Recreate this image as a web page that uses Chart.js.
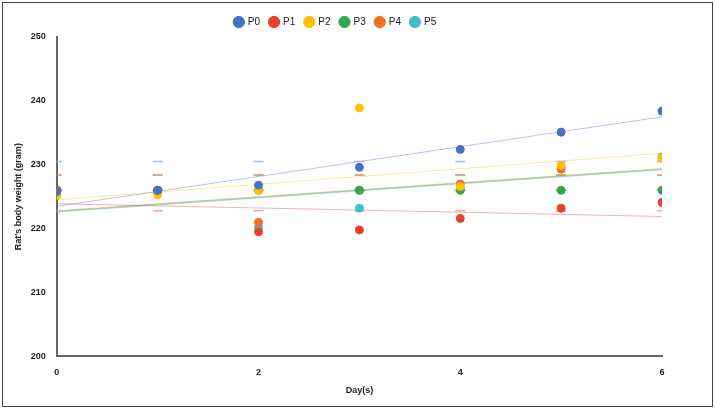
<!DOCTYPE html><html><head><script src="https://cdn.jsdelivr.net/npm/chart.js"></script>
<style>body{margin:0;background:#fff}#w{position:absolute;left:2px;top:2px;width:709px;height:403px;border:1px solid #444}</style></head><body><div id="w"><canvas id="c"></canvas></div>
<script>
const days=[0,1,2,3,4,5,6];
const names=['P0','P1','P2','P3','P4','P5'];
const colors=['#4472C4','#E8402F','#FFC000','#33A853','#F27022','#3EC1C9'];
const P0=[225.8,226,226.8,229.6,232.4,235.1,238.4];
const P1=[226,226,219.5,219.8,221.6,223.2,224.1];
const P2=[225.2,225.3,226,238.9,226.6,229.9,231];
const P3=[226,226,226,226,226,226,226];
const P4=[226,226,221,226,227,229.3,231];
const P5=[225.2,225.6,220.2,223.2,226.4,229.6,231.2];
const series=[P0,P1,P2,P3,P4,P5];
const trendStart=[223.5,223.9,224.5,222.7,222.8,222.6];
const trendEnd=[237.5,221.9,231.8,229.3,229.4,229.2];
const errLevels=[230.5,228.4,226,222.8];
const errColors=['#9DC3E6','#B8965A','#3E7A5E','#F4A6A6'];
const ds=[];
series.forEach((s,i)=>ds.push({label:names[i],data:days.map((d,j)=>({x:d,y:s[j]})),backgroundColor:colors[i],borderColor:colors[i],pointRadius:4,showLine:false,order:1}));
series.forEach((s,i)=>ds.push({label:'t'+i,data:[{x:0,y:trendStart[i]},{x:6,y:trendEnd[i]}],borderColor:colors[i]+'66',borderWidth:1,pointRadius:0,showLine:true,order:3}));
errLevels.forEach((v,i)=>ds.push({label:'e'+i,data:days.map(d=>({x:d,y:v})),pointStyle:'line',pointRadius:5,borderColor:errColors[i],borderWidth:1.5,showLine:false,order:2}));
new Chart(document.getElementById('c'),{type:'scatter',data:{datasets:ds},options:{responsive:true,maintainAspectRatio:false,animation:false,
layout:{padding:{left:6,right:50,top:4,bottom:6}},
plugins:{legend:{position:'top',labels:{filter:it=>names.includes(it.text),usePointStyle:true,pointStyle:'circle',boxWidth:8,boxHeight:8,font:{family:'Arial',size:10},color:'#222'}},tooltip:{enabled:false}},
scales:{x:{min:0,max:6,ticks:{stepSize:2,font:{family:'Arial',size:9,weight:'bold'},color:'#222'},grid:{display:false},border:{color:'#666',width:2},title:{display:true,text:'Day(s)',font:{family:'Arial',size:9,weight:'bold'},color:'#222'}},
y:{min:200,max:250,ticks:{stepSize:10,font:{family:'Arial',size:9,weight:'bold'},color:'#222'},grid:{display:false},border:{color:'#666',width:2},title:{display:true,text:"Rat's body weight (gram)",font:{family:'Arial',size:9,weight:'bold'},color:'#222'}}}}});
</script></body></html>
